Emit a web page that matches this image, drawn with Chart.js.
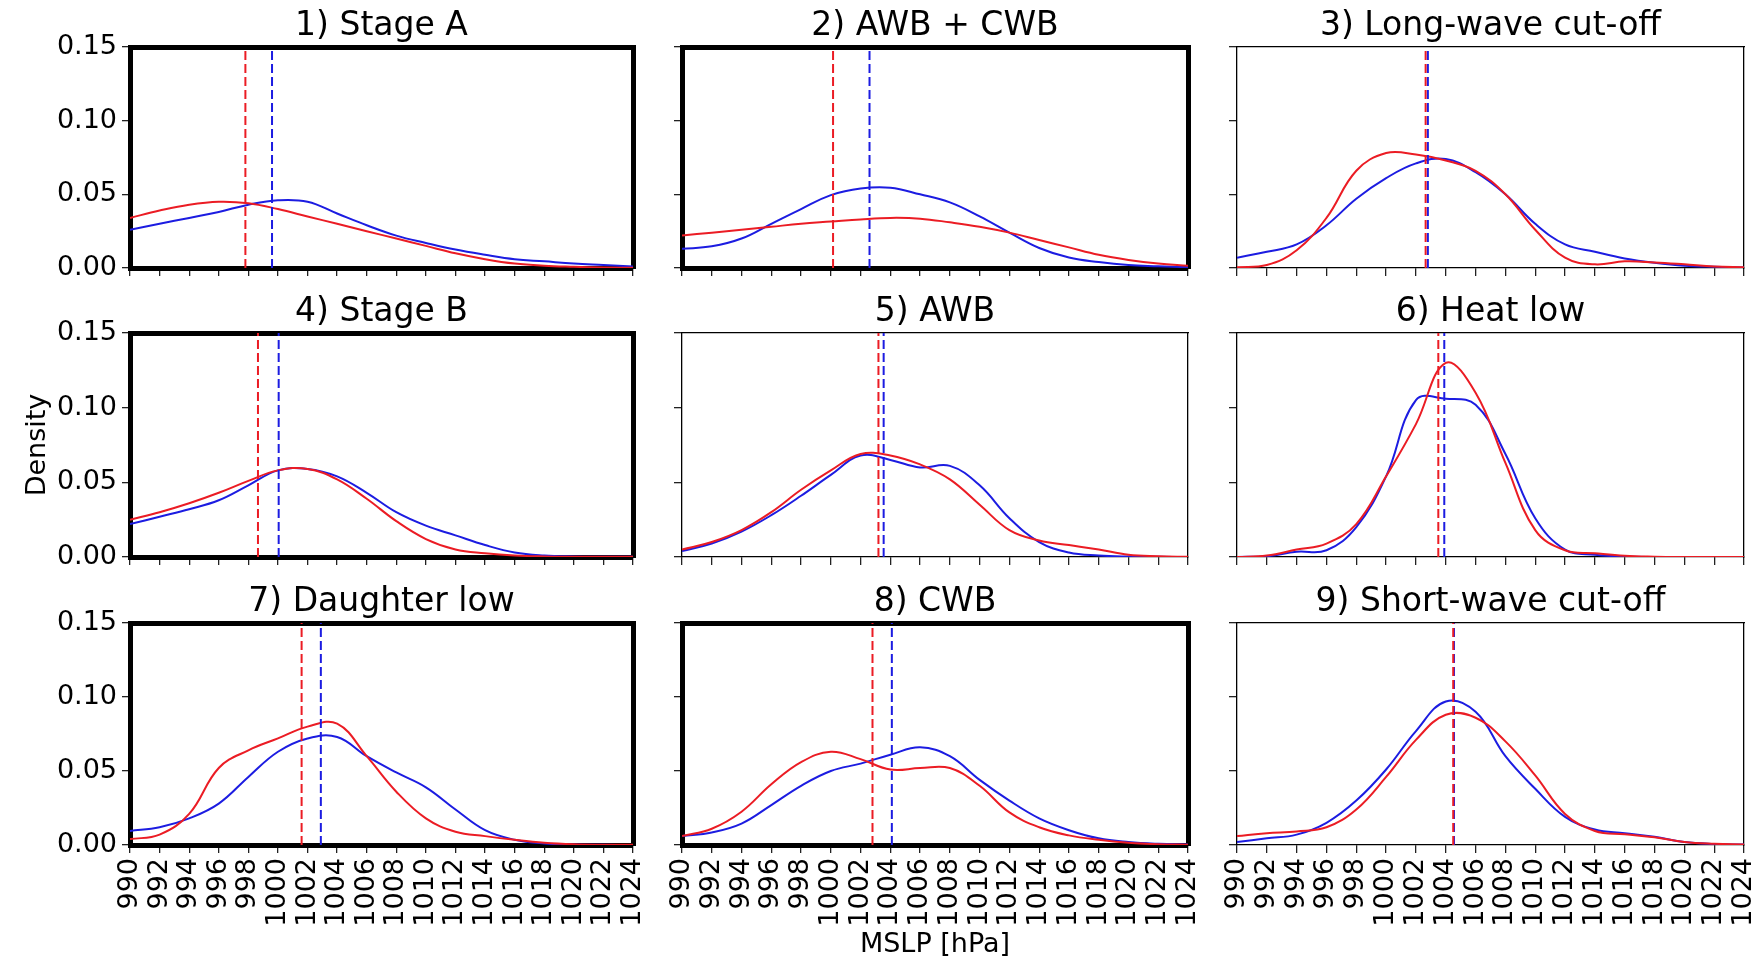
<!DOCTYPE html>
<html><head><meta charset="utf-8">
<script src="https://cdn.jsdelivr.net/npm/chart.js@4.4.1/dist/chart.umd.min.js"></script>
<style>
html,body{margin:0;padding:0;background:#fff;overflow:hidden;width:1757px;height:964px;position:relative}
canvas{position:absolute}
</style></head><body>
<script>
// ---------------- DATA ----------------
const pressure = [990,992,994,996,998,1000,1002,1004,1006,1008,1010,1012,1014,1016,1018,1020,1022,1024];
const titles = ['1) Stage A','2) AWB + CWB','3) Long-wave cut-off','4) Stage B','5) AWB','6) Heat low','7) Daughter low','8) CWB','9) Short-wave cut-off'];

const red1  = [0.034,0.039,0.043,0.045,0.044,0.040,0.035,0.030,0.025,0.020,0.015,0.010,0.006,0.003,0.0015,0.0008,0.0003,0.0001];
const blue1 = [0.026,0.030,0.034,0.038,0.043,0.046,0.045,0.037,0.029,0.022,0.017,0.0125,0.009,0.006,0.0045,0.003,0.002,0.001];
const red2  = [0.022,0.024,0.026,0.028,0.030,0.0315,0.033,0.034,0.0335,0.031,0.028,0.024,0.019,0.014,0.009,0.0055,0.003,0.0015];
const blue2 = [0.013,0.0147,0.020,0.030,0.040,0.0495,0.054,0.0545,0.050,0.0445,0.035,0.024,0.0136,0.0071,0.004,0.002,0.0012,0.0005];
const red3  = [0.0005,0.002,0.012,0.034,0.066,0.078,0.077,0.073,0.066,0.050,0.026,0.007,0.0025,0.0045,0.0038,0.0025,0.001,0.0005];
const blue3 = [0.007,0.011,0.016,0.029,0.047,0.061,0.071,0.074,0.065,0.050,0.030,0.016,0.011,0.0065,0.0035,0.0015,0.0008,0.0004];
const red4  = [0.025,0.030,0.036,0.043,0.051,0.058,0.059,0.052,0.039,0.024,0.012,0.005,0.0025,0.001,0.0004,0.0002,0.0001,0.0001];
const blue4 = [0.022,0.027,0.032,0.038,0.048,0.058,0.059,0.054,0.043,0.030,0.021,0.0145,0.008,0.003,0.001,0.0004,0.0002,0.0001];
const red5  = [0.005,0.010,0.018,0.030,0.045,0.058,0.069,0.068,0.062,0.052,0.035,0.018,0.011,0.008,0.005,0.0015,0.0005,0.0001];
const blue5 = [0.004,0.009,0.017,0.028,0.041,0.055,0.068,0.065,0.060,0.061,0.048,0.026,0.010,0.003,0.001,0.0003,0.0001,0.0];
const red6  = [0.0,0.001,0.005,0.009,0.022,0.054,0.089,0.130,0.110,0.063,0.018,0.0045,0.0025,0.0008,0.0002,0.0,0.0,0.0];
const blue6 = [0.0,0.0005,0.0035,0.0045,0.020,0.054,0.105,0.106,0.102,0.069,0.026,0.005,0.0015,0.0003,0.0,0.0,0.0,0.0];
const red7  = [0.004,0.007,0.021,0.052,0.064,0.072,0.080,0.082,0.060,0.036,0.018,0.009,0.006,0.0035,0.0015,0.0005,0.0002,0.0001];
const blue7 = [0.0095,0.012,0.018,0.028,0.046,0.063,0.072,0.073,0.060,0.049,0.039,0.024,0.010,0.0035,0.001,0.0003,0.0001,0.0];
const red8  = [0.006,0.011,0.0225,0.041,0.056,0.063,0.058,0.051,0.052,0.052,0.040,0.022,0.012,0.0065,0.0035,0.0015,0.0005,0.0002];
const blue8 = [0.006,0.0085,0.0145,0.027,0.040,0.050,0.055,0.061,0.066,0.060,0.044,0.030,0.018,0.010,0.0045,0.002,0.0008,0.0003];
const red9  = [0.006,0.008,0.0092,0.012,0.024,0.046,0.071,0.088,0.086,0.070,0.047,0.021,0.0095,0.0072,0.0052,0.002,0.0008,0.0004];
const blue9 = [0.002,0.0045,0.007,0.015,0.030,0.051,0.077,0.097,0.090,0.060,0.038,0.019,0.0105,0.008,0.0055,0.002,0.0007,0.0003];

const redSeries  = [red1,red2,red3,red4,red5,red6,red7,red8,red9];
const blueSeries = [blue1,blue2,blue3,blue4,blue5,blue6,blue7,blue8,blue9];
const redMean  = [997.8,1000.15,1002.65,998.65,1003.2,1003.5,1001.6,1002.8,1004.5];
const blueMean = [999.6,1002.6,1002.8,1000.05,1003.55,1003.9,1002.9,1004.1,1004.55];

const xMin = 990, xMax = 1024, xStep = 2;
const yMin = 0, yMax = 0.15, yStep = 0.05;

// ---------------- LAYOUT / STYLE ----------------
const colLeft = [130, 682, 1237], colWidth = [503, 506, 507];
const rowTop = [47, 333, 623], rowHeight = [221, 224, 222];
const thickFrame = [true,true,false,true,false,false,true,true,false];
const RED = 'rgb(235,28,36)', BLUE = 'rgb(28,28,225)';

Chart.defaults.font.family = "'DejaVu Sans', sans-serif";
Chart.defaults.color = '#000';

function curve(vals, color){
  return {data: pressure.map((p,k)=>({x:p, y:vals[k]})), borderColor:color, borderWidth:2,
          pointRadius:0, fill:false, tension:0.4};
}
function vline(m, color){
  return {data:[{x:m,y:yMin},{x:m,y:yMax}], borderColor:color, borderWidth:2, borderDash:[9,4],
          pointRadius:0, fill:false, tension:0};
}

titles.forEach((title, i) => {
  const r = Math.floor(i/3), c = i%3;
  const padL = c===0 ? 118 : 30, padR = r===2 ? 60 : 30, padT = 40, padB = r===2 ? 116 : 25;
  const W = padL + colWidth[c] + padR, H = padT + rowHeight[r] + padB;
  const cv = document.createElement('canvas');
  cv.width = W; cv.height = H;
  cv.style.width = W+'px'; cv.style.height = H+'px';
  cv.style.left = (colLeft[c]-padL)+'px'; cv.style.top = (rowTop[r]-padT)+'px';
  document.body.appendChild(cv);
  const bw = thickFrame[i] ? 5 : 1.3;
  const border = {display:true, color:'#000', width:bw};
  const grid = {display:true, drawOnChartArea:false, drawTicks:true, tickLength:8, color:'#222', lineWidth:1.3};
  new Chart(cv, {
    type:'line',
    data:{datasets:[
      vline(redMean[i], RED), vline(blueMean[i], BLUE),
      curve(redSeries[i], RED), curve(blueSeries[i], BLUE)
    ]},
    options:{
      responsive:false, animation:false, devicePixelRatio:1,
      layout:{padding:0},
      plugins:{legend:{display:false}, tooltip:{enabled:false}, title:{display:false}},
      scales:{
        x:{type:'linear', position:'bottom', min:xMin, max:xMax,
           ticks:{display:r===2, stepSize:xStep, autoSkip:false, minRotation:90, maxRotation:90, padding:5,
                  font:{size:27}, color:'#000', callback:v=>String(v)},
           grid:grid, border:border,
           title:{display:i===7, text:'MSLP [hPa]', font:{size:27}, color:'#000', padding:0},
           afterFit:s=>{s.height=padB;}},
        x2:{type:'linear', position:'top', min:xMin, max:xMax, ticks:{display:false}, grid:{display:false},
           border:border, title:{display:true, text:title, font:{size:33}, color:'#000', padding:0},
           afterFit:s=>{s.height=padT;}},
        y:{type:'linear', position:'left', min:yMin, max:yMax,
           ticks:{display:c===0, stepSize:yStep, padding:5, font:{size:27}, color:'#000', callback:v=>v.toFixed(2)},
           grid:grid, border:border,
           title:{display:i===3, text:'Density', font:{size:27}, color:'#000', padding:{top:10,bottom:0}},
           afterFit:s=>{s.width=padL;}},
        y2:{type:'linear', position:'right', min:yMin, max:yMax, ticks:{display:false}, grid:{display:false},
           border:border, afterFit:s=>{s.width=padR;}}
      }
    }
  });
});
</script>
</body></html>
